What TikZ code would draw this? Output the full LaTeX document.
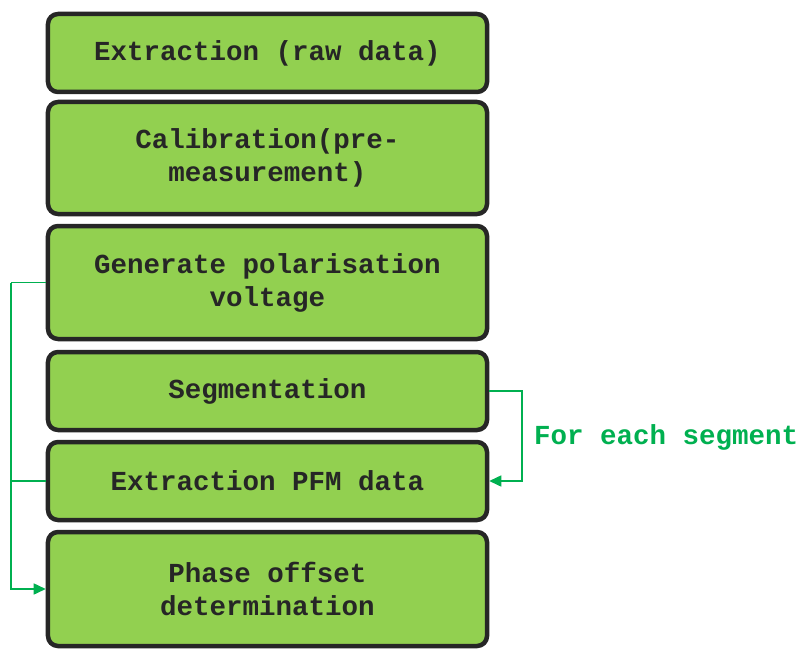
\documentclass[tikz,border=0pt]{standalone}
\usepackage{fontspec}
\setmonofont{Liberation Mono}
\usetikzlibrary{arrows.meta}
\definecolor{boxfill}{HTML}{92D050}
\definecolor{boxdraw}{HTML}{262626}
\definecolor{conn}{HTML}{00B050}
\tikzset{
  stepbox/.style={draw=boxdraw, line width=4.5bp, fill=boxfill, rounded corners=10bp,
    minimum width=439bp, align=center, text=boxdraw, inner sep=0pt,
    font=\fontsize{27.5bp}{33bp}\selectfont\ttfamily\bfseries},
  link/.style={draw=conn, line width=1.5bp},
  linkarrow/.style={link, -{Triangle[length=12bp,width=11bp]}},
}
\begin{document}
\begin{tikzpicture}[x=1bp,y=-1bp]
\useasboundingbox (0,0) rectangle (807,660);
\node[stepbox, minimum height=78bp]  (b1) at (267.5,53)  {Extraction (raw data)};
\node[stepbox, minimum height=112bp] (b2) at (267.5,158) {Calibration(pre-\\measurement)};
\node[stepbox, minimum height=113bp] (b3) at (267.5,282.5) {Generate polarisation\\voltage};
\node[stepbox, minimum height=78bp]  (b4) at (267.5,391) {Segmentation};
\node[stepbox, minimum height=78bp]  (b5) at (267.5,481) {Extraction PFM data};
\node[stepbox, minimum height=114bp] (b6) at (267.5,589) {Phase offset\\determination};
\coordinate (lt) at (11,282.5);
\coordinate (lm) at (11,481);
\coordinate (lb) at (11,589);
\coordinate (rt) at (522,391);
\coordinate (rb) at (522,481);
\draw[link] (b3.west) -- (lt);
\draw[link] (b5.west) -- (lm);
\draw[linkarrow] (lt) -- (lb) -- (b6.west);
\draw[linkarrow] (b4.east) -- (rt) -- (rb) -- (b5.east);
\node[anchor=west, inner sep=0pt, text=conn, font=\fontsize{27.5bp}{33bp}\selectfont\ttfamily\bfseries] (lbl) at (534,437) {For each segment};
\end{tikzpicture}
\end{document}
